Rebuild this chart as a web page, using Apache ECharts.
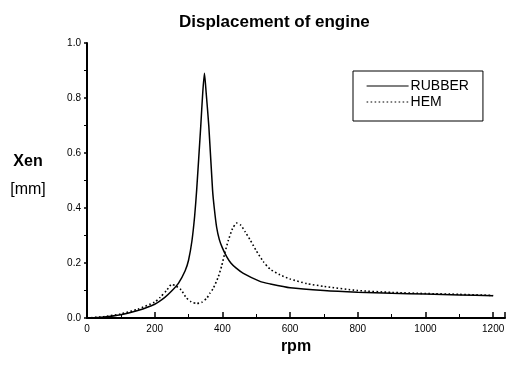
<!DOCTYPE html>
<html>
<head>
<meta charset="utf-8">
<script src="https://cdn.jsdelivr.net/npm/echarts@6/dist/echarts.min.js"></script>
<style>
html,body{margin:0;padding:0;background:#fff;}
#chart{width:509px;height:365px;}
</style>
</head>
<body>
<div id="chart"></div>
<script>
// Data
var rubberRpm = [0,50,100,150,200,230,250,270,290,300,310,318,324,336,342,347,352,360,371,376,383,391,400,413,425,440,462,511,541,600,700,800,900,1000,1100,1200];
var rubberXen = [0,0.004,0.012,0.027,0.05,0.075,0.098,0.126,0.172,0.21,0.28,0.37,0.465,0.696,0.82,0.89,0.82,0.696,0.465,0.4,0.33,0.285,0.255,0.222,0.2,0.182,0.162,0.133,0.124,0.11,0.1,0.094,0.09,0.087,0.084,0.081];
var hemRpm = [0,50,100,150,200,216,235,250,262,278,293,308,324,339,354,363,373,388,398,408,418,430,442,455,468,482,500,521,541,570,600,650,700,800,900,1000,1100,1200];
var hemXen = [0,0.005,0.015,0.032,0.058,0.075,0.1,0.122,0.117,0.102,0.074,0.059,0.053,0.057,0.072,0.09,0.108,0.15,0.19,0.24,0.284,0.325,0.345,0.337,0.312,0.284,0.245,0.205,0.178,0.157,0.142,0.125,0.115,0.1,0.093,0.089,0.086,0.082];
var seriesNames = ['RUBBER','HEM'];
var titleText = 'Displacement of engine';
var xName = 'rpm';
var yNameTop = 'Xen';
var yNameBottom = '[mm]';

function pairs(xs, ys){ return xs.map(function(x,i){ return [x, ys[i]]; }); }

var FONT = 'Liberation Sans, Arial, sans-serif';
var chart = echarts.init(document.getElementById('chart'), null, {renderer:'canvas'});
chart.setOption({
  backgroundColor:'#fff',
  animation:false,
  title:{
    text:titleText, left:174, top:9,
    textStyle:{fontFamily:FONT, fontWeight:'bold', fontSize:17, color:'#000'}
  },
  legend:{
    orient:'vertical', left:353, top:71,
    data:seriesNames,
    itemWidth:42, itemHeight:14, itemGap:2,
    padding:[8,14,12,13],
    borderColor:'#000', borderWidth:1,
    itemStyle:{opacity:0},
    lineStyle:{width:1.2},
    textStyle:{fontFamily:FONT, fontSize:14, color:'#000', padding:[0,0,0,-3]}
  },
  grid:{left:87, right:4, top:43, bottom:47, containLabel:false},
  xAxis:{
    type:'value', min:0, max:1235, interval:200,
    name:xName, nameLocation:'middle', nameGap:20,
    nameTextStyle:{fontFamily:FONT, fontWeight:'bold', fontSize:16, color:'#000'},
    axisLine:{show:true, onZero:false, lineStyle:{color:'#000', width:2}},
    axisTick:{show:true, inside:true, length:6, lineStyle:{color:'#000', width:1.5}},
    minorTick:{show:true, splitNumber:2, length:4, lineStyle:{color:'#000', width:1}},
    splitLine:{show:false},
    axisLabel:{fontFamily:FONT, fontSize:10, color:'#000', margin:6,
      formatter:function(v){ return (v % 200 === 0) ? String(v) : ''; }}
  },
  yAxis:{
    type:'value', min:0, max:1.0, interval:0.2,
    name:'{a|' + yNameTop + '}\n{b|' + yNameBottom + '}', nameLocation:'middle', nameRotate:0, nameGap:59,
    nameTextStyle:{fontFamily:FONT, fontSize:16, color:'#000', align:'center', padding:[0,0,10,0],
      rich:{
        a:{fontFamily:FONT, fontSize:16, fontWeight:'bold', color:'#000', lineHeight:28, align:'center'},
        b:{fontFamily:FONT, fontSize:16, color:'#000', lineHeight:28, align:'center'}
      }},
    axisLine:{show:true, lineStyle:{color:'#000', width:2}},
    axisTick:{show:true, inside:false, length:3, lineStyle:{color:'#000', width:1.5}},
    minorTick:{show:true, splitNumber:2, length:3, lineStyle:{color:'#000', width:1}},
    splitLine:{show:false},
    axisLabel:{fontFamily:FONT, fontSize:10, color:'#000', margin:6,
      formatter:function(v){ return v.toFixed(1); }}
  },
  series:[
    {name:seriesNames[0], type:'line', data:pairs(rubberRpm, rubberXen), showSymbol:false, symbol:'none',
      smooth:0.2, lineStyle:{color:'#000', width:1.5, type:'solid'}, itemStyle:{color:'#000'}},
    {name:seriesNames[1], type:'line', data:pairs(hemRpm, hemXen), showSymbol:false, symbol:'none',
      smooth:0.2, lineStyle:{color:'#000', width:1.6, type:[1.6,2.4]}, itemStyle:{color:'#000'}}
  ]
});
</script>
</body>
</html>
